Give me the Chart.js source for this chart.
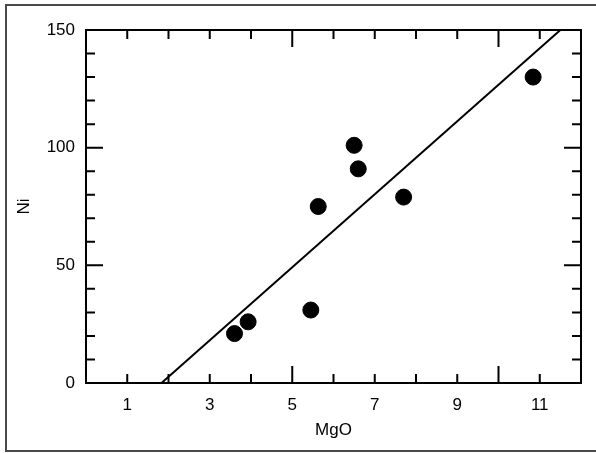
<!DOCTYPE html>
<html>
<head>
<meta charset="utf-8">
<script src="https://cdn.jsdelivr.net/npm/chart.js@4"></script>
<style>
  html, body { margin: 0; padding: 0; background: #fff; }
  #wrap { width: 596px; height: 453px; }
</style>
</head>
<body>
<div id="wrap"><canvas id="niChart" width="596" height="453"></canvas></div>
<script>
// sample values
const mgo = [3.6, 3.93, 5.45, 5.63, 6.5, 6.6, 7.7, 10.84];
const ni = [21, 26, 31, 75, 101, 91, 79, 130];

// fitted line end points
const fitMgo = [1.83, 11.5];
const fitNi = [0, 150];

const xLabels = [1, 3, 5, 7, 9, 11];
const yLabels = [0, 50, 100, 150];

const FONT = "'Liberation Sans', Arial, sans-serif";

// box round the plot, inward ticks on all four sides, and the outer frame
const frameAndTicks = {
  id: "frameAndTicks",
  afterDraw(chart) {
    const ctx = chart.ctx;
    const { left, right, top, bottom } = chart.chartArea;
    const xs = chart.scales.x;
    const ys = chart.scales.y;
    ctx.save();
    ctx.strokeStyle = "#000";
    ctx.lineWidth = 2;
    ctx.strokeRect(left, top, right - left, bottom - top);

    ctx.beginPath();
    for (let v = 0; v <= 12; v++) {
      const px = xs.getPixelForValue(v);
      const len = v % 5 === 0 ? 17 : 9;
      ctx.moveTo(px, bottom);
      ctx.lineTo(px, bottom - len);
      ctx.moveTo(px, top);
      ctx.lineTo(px, top + len);
    }
    for (let v = 0; v <= 150; v += 10) {
      const py = ys.getPixelForValue(v);
      const len = v % 50 === 0 ? 17 : 9;
      ctx.moveTo(left, py);
      ctx.lineTo(left + len, py);
      ctx.moveTo(right, py);
      ctx.lineTo(right - len, py);
    }
    ctx.stroke();

    // outer frame (cut off on the right in the original)
    ctx.strokeStyle = "#4a4a4a";
    ctx.beginPath();
    ctx.moveTo(596, 5);
    ctx.lineTo(6, 5);
    ctx.lineTo(6, 451);
    ctx.lineTo(596, 451);
    ctx.stroke();
    ctx.restore();
  },
};

const chart = new Chart(document.getElementById("niChart").getContext("2d"), {
  type: "scatter",
  data: {
    datasets: [
      {
        label: "Samples",
        data: mgo.map((x, i) => ({ x: x, y: ni[i] })),
        backgroundColor: "#000",
        borderColor: "#000",
        pointRadius: 8,
        pointHoverRadius: 8,
      },
      {
        label: "Fit",
        data: fitMgo.map((x, i) => ({ x: x, y: fitNi[i] })),
        showLine: true,
        borderColor: "#000",
        borderWidth: 2,
        pointRadius: 0,
        fill: false,
      },
    ],
  },
  plugins: [frameAndTicks],
  options: {
    responsive: false,
    animation: false,
    layout: { padding: { left: 0, top: 30, right: 15, bottom: 0 } },
    plugins: {
      legend: { display: false },
      tooltip: { enabled: false },
    },
    scales: {
      x: {
        type: "linear",
        min: 0,
        max: 12,
        afterFit: (scale) => { scale.height = 70; },
        afterBuildTicks: (scale) => {
          scale.ticks = xLabels.map((v) => ({ value: v }));
        },
        grid: { display: false, drawTicks: false },
        border: { display: false },
        ticks: {
          color: "#000",
          padding: 12,
          font: { family: FONT, size: 17 },
          maxRotation: 0,
        },
        title: {
          display: true,
          text: "MgO",
          color: "#000",
          font: { family: FONT, size: 17 },
          padding: { top: 0, bottom: 12 },
        },
      },
      y: {
        type: "linear",
        min: 0,
        max: 150,
        afterFit: (scale) => { scale.width = 86; },
        afterBuildTicks: (scale) => {
          scale.ticks = yLabels.map((v) => ({ value: v }));
        },
        grid: { display: false, drawTicks: false },
        border: { display: false },
        ticks: {
          color: "#000",
          padding: 11,
          font: { family: FONT, size: 17 },
        },
        title: {
          display: true,
          text: "Ni",
          color: "#000",
          font: { family: FONT, size: 17 },
          padding: { top: 14, bottom: 0 },
        },
      },
    },
  },
});
</script>
</body>
</html>
